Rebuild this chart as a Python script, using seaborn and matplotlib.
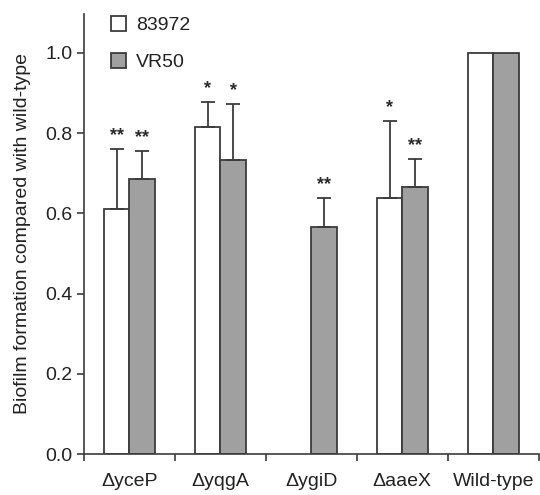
import numpy as np
import pandas as pd
import matplotlib
matplotlib.use("Agg")
import matplotlib.pyplot as plt
import seaborn as sns

# values
strains = ["ΔyceP", "ΔyqgA", "ΔygiD", "ΔaaeX", "Wild-type"]
mean_83972 = [0.611, 0.815, np.nan, 0.638, 1.0]
err_83972 = [0.149, 0.063, np.nan, 0.192, np.nan]
stars_83972 = ["**", "*", "", "*", ""]
mean_vr50 = [0.686, 0.733, 0.566, 0.666, 1.0]
err_vr50 = [0.070, 0.140, 0.072, 0.070, np.nan]
stars_vr50 = ["**", "*", "**", "**", ""]
groups = ["83972", "VR50"]

df = pd.DataFrame({
    "strain": strains * 2,
    "group": [groups[0]] * 5 + [groups[1]] * 5,
    "value": mean_83972 + mean_vr50,
})

sns.set_style("ticks")
plt.rcParams["font.family"] = ["Liberation Sans", "DejaVu Sans"]

fig = plt.figure(figsize=(5.4, 4.95), dpi=100)
ax = fig.add_axes([0.1556, 0.0828, 0.842, 0.889])

edge = "#3c3c3c"
sns.barplot(data=df, x="strain", y="value", hue="group", order=strains,
            hue_order=groups, palette=["white", "#a0a0a0"], width=0.56,
            edgecolor=edge, linewidth=1.3, errorbar=None, ax=ax, legend=True)

# error bars (upper only) and significance stars, matched by bar position
for cont, errs, stars in zip(ax.containers, [err_83972, err_vr50],
                             [stars_83972, stars_vr50]):
    for bar in cont:
        h = bar.get_height()
        xc = bar.get_x() + bar.get_width() / 2
        i = int(round(xc))
        e, s = errs[i], stars[i]
        if np.isnan(h) or np.isnan(e):
            continue
        ax.errorbar(xc, h, yerr=[[0], [e]], fmt="none", ecolor=edge,
                    elinewidth=1.3, capsize=4.7, capthick=1.3)
        ax.text(xc, h + e + 0.012, s, ha="center", va="bottom",
                fontsize=13, fontweight="bold", color="#2a2a2a")

ax.set_ylim(0, 1.097)
ax.set_xlim(-0.5, 4.5)
ax.set_yticks([0.0, 0.2, 0.4, 0.6, 0.8, 1.0])
ax.set_yticklabels(["0.0", "0.2", "0.4", "0.6", "0.8", "1.0"])
ax.set_xticks([-0.5, 0.5, 1.5, 2.5, 3.5, 4.5])
ax.set_xticklabels([])
ax.set_xticks(range(5), minor=True)
ax.set_xticklabels(strains, minor=True)
ax.tick_params(axis="x", which="minor", length=0, labelsize=14, pad=14,
               colors="#222222")
ax.tick_params(axis="x", which="major", length=5, width=1.2, color=edge)
ax.tick_params(axis="y", length=5, width=1.2, color=edge, labelsize=14,
               labelcolor="#222222")
ax.set_xlabel("")
ax.set_ylabel("Biofilm formation compared with wild-type", fontsize=14,
              color="#222222", labelpad=10)
for side in ["top", "right"]:
    ax.spines[side].set_visible(False)
for side in ["left", "bottom"]:
    ax.spines[side].set_color(edge)
    ax.spines[side].set_linewidth(1.2)

ax.legend(loc="upper left", bbox_to_anchor=(0.02, 1.035), frameon=False,
          fontsize=14, handlelength=0.8, handleheight=0.8,
          labelspacing=0.95, handletextpad=0.5, labelcolor="#222222")

fig.savefig("out.png", dpi=100)
